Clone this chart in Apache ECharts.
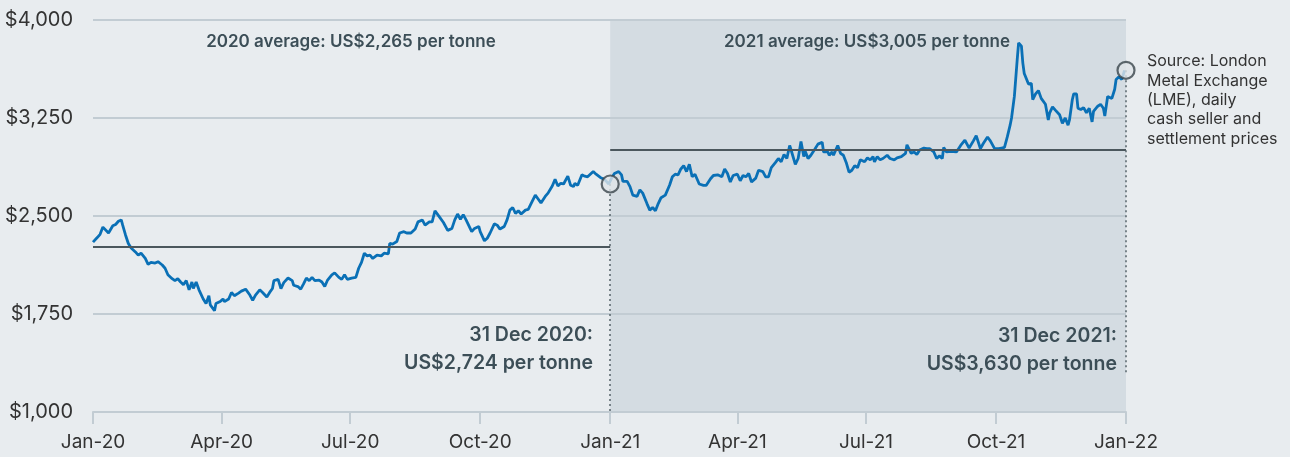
<!DOCTYPE html>
<html>
<head>
<meta charset="utf-8">
<script src="https://cdn.jsdelivr.net/npm/echarts@6/dist/echarts.min.js"></script>
<style>
  html, body { margin: 0; padding: 0; background: #e8ecef; }
  #chart { width: 1290px; height: 457px; }
</style>
</head>
<body>
<div id="chart"></div>
<script>
// days after 1 Jan 2020, and LME cash price (US$ per tonne)
var days = [
  0, 1, 3, 5, 7, 8, 11, 12, 14, 16, 18, 19, 20, 21, 23, 25, 27, 30, 32, 34,
  37, 39, 41, 44, 46, 49, 51, 53, 56, 58, 60, 62, 64, 66, 68, 70, 71, 73, 75, 78,
  80, 82, 83, 86, 87, 90, 92, 93, 96, 98, 100, 103, 105, 108, 111, 113, 115, 118, 120, 123,
  125,
  127, 128, 131, 133, 135, 138, 141, 142, 145, 147,
  149, 151, 153, 155, 157, 160, 162, 164, 166, 169,
  171, 174, 176, 178, 180, 181, 183, 186, 188, 190,
  192, 194, 196, 198, 201, 204, 206, 209, 210, 212,
  215, 217, 220, 222, 225, 228, 230, 233, 235, 238,
  240, 242, 243, 245, 248,
  251, 254, 256, 258, 260, 262, 264, 268, 270, 273,
  274, 277, 279, 281, 284, 286, 288, 291, 293, 295,
  297, 299, 301, 303, 306, 308, 310, 313, 315, 317,
  320, 322, 325, 327, 329, 331, 333, 336, 338, 340,
  341, 343, 346, 348, 350, 354, 356, 359, 362, 365,
  367, 369, 372, 374, 375, 378, 380, 382, 385, 387,
  389, 390, 392, 394, 396, 398, 400, 402, 405, 408,
  410, 412, 414, 416, 418, 420, 422, 424, 426, 429,
  432, 434, 437, 439, 442, 445, 447, 449, 451, 453,
  456, 458, 460, 462, 464, 466, 469, 471, 474, 476,
  478, 480, 483, 485, 487, 489, 491, 493, 494, 497,
  499, 501, 503,
  504, 506, 508, 511, 513, 516, 517, 520, 521, 523,
  524, 527, 529, 531, 533, 535, 537, 539, 541, 543,
  546, 548, 550, 552, 553, 555, 557, 559, 562, 564,
  567, 569, 572, 575, 576, 579, 581, 583, 585, 588,
  590, 592, 595, 597, 599, 601, 602, 604, 607, 608,
  611, 614, 617, 620, 623, 625, 628, 630, 633, 635,
  638, 641,
  643, 645, 647, 649, 650, 652, 654, 655, 657, 658,
  659, 660, 662, 664, 665, 667, 669, 671, 674, 676,
  677, 679, 681, 682, 684, 686, 688, 690, 691, 693,
  694, 696, 697, 699, 701, 703, 705, 707, 708, 711,
  713, 715, 716, 718, 719, 721, 723, 724, 726, 728,
  730
];
var prices = [
  2300, 2285, 2335, 2360, 2415, 2400, 2370, 2370, 2425, 2435, 2460, 2450, 2470, 2430, 2355, 2290, 2255, 2225, 2200, 2215,
  2175, 2130, 2145, 2140, 2150, 2125, 2100, 2050, 2020, 2005, 2020, 1995, 1975, 2005, 1935, 1995, 1945, 1995, 1935, 1865,
  1830, 1890, 1820, 1775, 1830, 1845, 1865, 1845, 1865, 1915, 1890, 1910, 1925, 1940, 1895, 1855, 1895, 1935, 1915, 1880,
  1915,
  1945, 2005, 2015, 1945, 1990, 2025, 2005, 1970, 1960, 1940,
  1980, 2025, 2005, 2030, 2005, 2010, 1995, 1960, 2010, 2050,
  2065, 2030, 2015, 2050, 2015, 2030, 2025, 2030, 2100, 2145,
  2215, 2195, 2200, 2175, 2200, 2195, 2215, 2210, 2290, 2285,
  2305, 2370, 2380, 2370, 2370, 2400, 2455, 2470, 2430, 2455,
  2455, 2540, 2550, 2495, 2450,
  2390, 2405, 2470, 2515, 2475, 2510, 2470, 2380, 2405, 2420,
  2380, 2310, 2330, 2370, 2440, 2430, 2400, 2420, 2470, 2545,
  2565, 2520, 2540, 2515, 2545, 2550, 2595, 2660, 2630, 2600,
  2650, 2675, 2730, 2780, 2730, 2750, 2745, 2805, 2735, 2725,
  2750, 2735, 2815, 2805, 2800, 2840, 2820, 2795, 2780, 2745,
  2790, 2825, 2840, 2815, 2765, 2765, 2725, 2660, 2650, 2700,
  2675, 2685, 2595, 2545, 2565, 2540, 2595, 2640, 2660, 2735,
  2800, 2820, 2815, 2860, 2885, 2840, 2895, 2800, 2820, 2745,
  2735, 2735, 2785, 2810, 2815, 2800, 2860, 2825, 2760, 2810,
  2820, 2770, 2810, 2800, 2825, 2760, 2790, 2850, 2840, 2800,
  2800, 2870, 2910, 2940, 2915, 2970, 2940, 3040, 3005, 2895,
  2940, 3070, 2955,
  2995, 2940, 2965, 3015, 3050, 3065, 2990, 2990, 2965, 2990,
  2965, 3040, 2980, 2965, 2910, 2835, 2850, 2885, 2870, 2930,
  2915, 2945, 2930, 2955, 2915, 2955, 2930, 2940, 2965, 2940,
  2930, 2945, 2955, 2980, 3045, 2980, 2990, 2970, 3005, 3020,
  3015, 3015, 2990, 2940, 2960, 2940, 3025, 2990, 2995, 2980,
  2990, 3040, 3080, 3020, 3075, 3115, 3015, 3055, 3105, 3075,
  3015, 3015,
  3020, 3025, 3105, 3195, 3250, 3415, 3695, 3825, 3800, 3670,
  3590, 3580, 3510, 3515, 3390, 3435, 3460, 3400, 3355, 3235,
  3290, 3335, 3310, 3315, 3275, 3210, 3250, 3195, 3235, 3390,
  3435, 3435, 3325, 3315, 3330, 3290, 3325, 3220, 3300, 3340,
  3355, 3325, 3265, 3415, 3425, 3400, 3470, 3545, 3565, 3545,
  3615
];

var yearStarts = ['2020-01-01', '2021-01-01', '2022-01-01'];
var averages = [2265, 3005];
var yearEndPrices = ['US$2,724', 'US$3,630'];
var yTicks = [1000, 1750, 2500, 3250, 4000];
var xTickDates = ['2020-01-01', '2020-04-01', '2020-07-01', '2020-10-01', '2021-01-01',
                  '2021-04-01', '2021-07-01', '2021-10-01', '2022-01-01'];
var xTickLabels = ['Jan-20', 'Apr-20', 'Jul-20', 'Oct-20', 'Jan-21', 'Apr-21', 'Jul-21', 'Oct-21', 'Jan-22'];

function ts(s) {
  var p = s.split('-');
  return Date.UTC(+p[0], +p[1] - 1, +p[2]);
}
var DAY = 86400000;
var t0 = ts('2020-01-01');
var lineData = days.map(function (d, i) { return [t0 + d * DAY, prices[i]]; });
var xTicks = xTickDates.map(ts);
var y0 = ts(yearStarts[0]), y1 = ts(yearStarts[1]), y2 = ts(yearStarts[2]);

// last point of each year gets a circle
var end2020 = lineData.filter(function (p) { return p[0] < y1; }).pop();
var end2021 = lineData[lineData.length - 1];

var ink = '#3c4e57';
var gridCol = '#c2ccd3';

var myChart = echarts.init(document.getElementById('chart'));
var option = {
  backgroundColor: '#e8ecef',
  animation: false,
  textStyle: { fontFamily: 'Inter' },
  grid: { left: 93, right: 164, top: 20, bottom: 45 },
  xAxis: {
    type: 'value',
    min: y0,
    max: y2,
    axisLine: { show: true, lineStyle: { color: gridCol, width: 2 } },
    axisTick: { show: true, length: 12, customValues: xTicks, lineStyle: { color: gridCol, width: 2 } },
    axisLabel: {
      customValues: xTicks,
      margin: 21,
      color: '#333',
      fontSize: 19,
      fontFamily: 'Inter',
      formatter: function (v) {
        var i = xTicks.indexOf(v);
        return i >= 0 ? xTickLabels[i] : '';
      }
    },
    splitLine: { show: false }
  },
  yAxis: {
    type: 'value',
    min: 1000,
    max: 4000,
    axisLine: { show: false },
    axisTick: { show: false, customValues: yTicks },
    axisLabel: {
      customValues: yTicks,
      margin: 20,
      color: '#333',
      fontSize: 20,
      fontFamily: 'Inter',
      formatter: function (v) { return '$' + v.toLocaleString('en-US'); }
    },
    splitLine: { show: true, lineStyle: { color: gridCol, width: 2 } }
  },
  series: [
    {
      // shaded 2021 band, kept under the grid lines
      type: 'line',
      z: -1,
      silent: true,
      data: [],
      markArea: {
        z: -1,
        silent: true,
        itemStyle: { color: '#d4dce2' },
        data: [[{ xAxis: y1 }, { xAxis: y2 }]]
      }
    },
    {
      type: 'line',
      data: lineData,
      showSymbol: false,
      z: 3,
      lineStyle: { color: '#0a70b6', width: 2.8 },
      markLine: {
        silent: true,
        symbol: 'none',
        label: { show: false },
        data: [
          [{ coord: [y0, averages[0]], lineStyle: { color: '#4b575d', width: 2, type: 'solid' } },
           { coord: [y1, averages[0]] }],
          [{ coord: [y1, averages[1]], lineStyle: { color: '#4b575d', width: 2, type: 'solid' } },
           { coord: [y2, averages[1]] }],
          [{ coord: [y1, end2020[1]], lineStyle: { color: '#55636a', width: 1.5, type: [2, 3] } },
           { coord: [y1, 1000] }],
          [{ coord: [y2, end2021[1]], lineStyle: { color: '#55636a', width: 1.5, type: [2, 3] } },
           { coord: [y2, 1300] }]
        ]
      }
    },
    {
      type: 'scatter',
      z: 5,
      silent: true,
      symbol: 'circle',
      symbolSize: 17,
      itemStyle: { color: '#dfe5e9', borderColor: '#39454b', borderWidth: 2.2 },
      data: [[y1, end2020[1]], [y2, end2021[1]]]
    }
  ],
  graphic: [
    { type: 'text', z: 10, x: 351, y: 42, style: { text: '2020 average: US$' + averages[0].toLocaleString('en-US') + ' per tonne', fill: ink, font: '600 17px Inter', textAlign: 'center', textVerticalAlign: 'middle' } },
    { type: 'text', z: 10, x: 867, y: 42, style: { text: '2021 average: US$' + averages[1].toLocaleString('en-US') + ' per tonne', fill: ink, font: '600 17px Inter', textAlign: 'center', textVerticalAlign: 'middle' } },
    { type: 'text', z: 10, x: 593, y: 335, style: { text: '31 Dec 2020:', fill: ink, font: '600 19.5px Inter', textAlign: 'right', textVerticalAlign: 'middle' } },
    { type: 'text', z: 10, x: 593, y: 363, style: { text: yearEndPrices[0] + ' per tonne', fill: ink, font: '600 19.5px Inter', textAlign: 'right', textVerticalAlign: 'middle' } },
    { type: 'text', z: 10, x: 1117, y: 336, style: { text: '31 Dec 2021:', fill: ink, font: '600 19.5px Inter', textAlign: 'right', textVerticalAlign: 'middle' } },
    { type: 'text', z: 10, x: 1117, y: 364, style: { text: yearEndPrices[1] + ' per tonne', fill: ink, font: '600 19.5px Inter', textAlign: 'right', textVerticalAlign: 'middle' } },
    { type: 'text', z: 10, x: 1147, y: 52, style: { text: 'Source: London\nMetal Exchange\n(LME), daily\ncash seller and\nsettlement prices', fill: '#333', font: '16px Inter', lineHeight: 19.3, textAlign: 'left' } }
  ]
};
myChart.setOption(option);
</script>
</body>
</html>
